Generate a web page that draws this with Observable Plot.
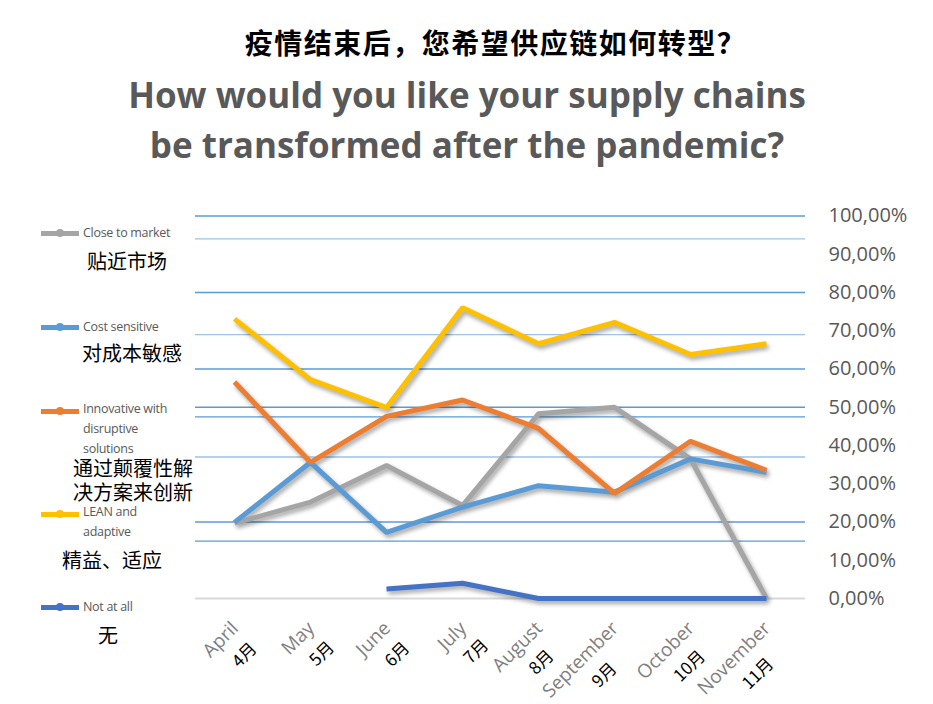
<!DOCTYPE html>
<html>
<head>
<meta charset="utf-8">
<script src="https://cdn.jsdelivr.net/npm/d3@7"></script>
<script src="https://cdn.jsdelivr.net/npm/@observablehq/plot@0.6"></script>
<style>
  body { margin: 0; background: #fff; }
  #page { position: relative; width: 933px; height: 704px; overflow: hidden; font-family: "Open Sans", sans-serif; }
  #zhTitle { position: absolute; left: 0; width: 991px; top: 26px; text-align: center; font: 700 28px/32px "Noto Sans CJK SC", sans-serif; color: #000; letter-spacing: 1.5px; white-space: nowrap; }
  #enTitle { position: absolute; left: 0; width: 934px; top: 69.5px; text-align: center; font: 700 35px/50px "Open Sans", sans-serif; color: #595959; white-space: nowrap; }
  #chart { position: absolute; left: 0; top: 190px; width: 933px; height: 514px; }
  #chart svg { position: absolute; left: 0; top: 0; }
  .sw { position: absolute; left: 41px; width: 38px; height: 5px; }
  .dot { position: absolute; left: 56px; width: 8px; height: 8px; border-radius: 50%; }
  .en { position: absolute; left: 83px; font: 400 12.5px/14px "Open Sans", sans-serif; color: #595959; white-space: nowrap; letter-spacing: -0.3px; }
  .zh { position: absolute; font: 400 20px/20px "Noto Sans CJK SC", sans-serif; color: #000; white-space: nowrap; }
  .xzh { position: absolute; font: 400 17px/17px "Noto Sans CJK SC", sans-serif; color: #000; white-space: nowrap; transform-origin: 0 0; }
  #chart g[aria-label="line"] { filter: drop-shadow(2px 3px 2px rgba(0,0,0,0.35)); }
</style>
</head>
<body>
<div id="page">
  <div id="zhTitle">疫情结束后，您希望供应链如何转型？</div>
  <div id="enTitle">How would you like your supply chains<br>be transformed after the pandemic?</div>

  <div class="sw" style="top:230.5px;background:#a5a5a5"></div><div class="dot" style="top:229px;background:#a5a5a5"></div>
  <div class="en" style="top:226px">Close to market</div>
  <div class="zh" style="left:87px;top:251px">贴近市场</div>

  <div class="sw" style="top:324.5px;background:#5b9bd5"></div><div class="dot" style="top:323px;background:#5b9bd5"></div>
  <div class="en" style="top:320px">Cost sensitive</div>
  <div class="zh" style="left:82px;top:343px">对成本敏感</div>

  <div class="sw" style="top:408.5px;background:#ed7d31"></div><div class="dot" style="top:407px;background:#ed7d31"></div>
  <div class="en" style="top:402px">Innovative with</div>
  <div class="en" style="top:422px">disruptive</div>
  <div class="en" style="top:442px">solutions</div>
  <div class="zh" style="left:73px;top:458px">通过颠覆性解</div>
  <div class="zh" style="left:73px;top:482px">决方案来创新</div>

  <div class="sw" style="top:511.5px;background:#ffc000"></div><div class="dot" style="top:510px;background:#ffc000"></div>
  <div class="en" style="top:505px">LEAN and</div>
  <div class="en" style="top:525px">adaptive</div>
  <div class="zh" style="left:62px;top:550px">精益、适应</div>

  <div class="sw" style="top:604.5px;background:#4472c4"></div><div class="dot" style="top:603px;background:#4472c4"></div>
  <div class="en" style="top:600px">Not at all</div>
  <div class="zh" style="left:98px;top:625px">无</div>

  <div id="chart"></div>
</div>
<script>
const months = ["April", "May", "June", "July", "August", "September", "October", "November"];
const monthsZh = ["4月", "5月", "6月", "7月", "8月", "9月", "10月", "11月"];
const seriesNames = ["Close to market", "Cost sensitive", "Innovative with disruptive solutions", "LEAN and adaptive", "Not at all"];
const seriesColors = ["#a5a5a5", "#5b9bd5", "#ed7d31", "#ffc000", "#4472c4"];

const closeToMarket = [19.7, 25.2, 34.8, 24.3, 48.3, 50.0, 36.5, 0];
const costSensitive = [19.9, 35.6, 17.3, 23.9, 29.5, 27.8, 36.5, 33.0];
const innovative    = [56.6, 35.6, 47.6, 51.9, 44.5, 27.5, 41.1, 33.5];
const leanAdaptive  = [73.1, 57.2, 49.9, 76.0, 66.6, 72.2, 63.8, 66.6];
const notAtAll      = [null, null, 2.5, 4.0, 0, 0, 0, 0];

const yTicks = [0, 10, 20, 30, 40, 50, 60, 70, 80, 90, 100];
const gridMajor = [100, 80, 60, 50, 47.5, 20, 15];
const gridMinor = [94, 69, 37];

const seriesValues = [closeToMarket, costSensitive, innovative, leanAdaptive, notAtAll];
const rows = seriesValues.flatMap((vals, i) =>
  months.map((m, j) => ({series: seriesNames[i], month: m, value: vals[j]}))
).filter(d => d.value != null);

const chart = Plot.plot({
  width: 933,
  height: 514,
  marginTop: 25.5,
  marginBottom: 106,
  marginLeft: 195,
  marginRight: 128,
  x: {type: "point", domain: months, padding: 0.483, axis: null},
  y: {domain: [0, 100], axis: null},
  color: {domain: seriesNames, range: seriesColors},
  style: {background: "transparent", overflow: "visible", fontFamily: "Open Sans, sans-serif"},
  marks: [
    Plot.ruleY(gridMinor, {stroke: "#9dc3e6", strokeWidth: 1.3}),
    Plot.ruleY(gridMajor, {stroke: "#5b9bd5", strokeWidth: 1.3}),
    Plot.ruleY([0], {stroke: "#d9d9d9", strokeWidth: 2}),
    Plot.axisY(yTicks, {
      anchor: "right", tickSize: 0, tickPadding: 23, label: null,
      tickFormat: d => d.toFixed(2).replace(".", ",") + "%",
      fontSize: 20, fill: "#595959", textAnchor: "start", fontFamily: "Open Sans"
    }),
    Plot.line(rows, {
      x: "month", y: "value", z: "series", stroke: "series",
      strokeWidth: 5, strokeLinejoin: "miter", strokeLinecap: "butt"
    }),
    Plot.text(months, {
      x: d => d, frameAnchor: "bottom", rotate: -45, textAnchor: "end", lineAnchor: "bottom",
      dx: 5, dy: 31, fontSize: 19, fill: "#7f7f7f", fontFamily: "Open Sans"
    })
  ]
});
const holder = document.getElementById("chart");
holder.append(chart);

// second line of each rotated category label (Chinese month), centred under the English month
const xs = chart.scale("x"), ys = chart.scale("y");
const enTexts = chart.querySelectorAll('g[aria-label="text"] text');
enTexts.forEach(t => { t.removeAttribute("y"); t.removeAttribute("dy"); });
months.forEach((m, i) => {
  const L = enTexts[i] ? enTexts[i].getComputedTextLength() : 0;
  const px = xs.apply(m) + 5, py = ys.apply(0) + 31;
  const d = document.createElement("div");
  d.className = "xzh";
  d.textContent = monthsZh[i];
  d.style.left = px + "px";
  d.style.top = py + "px";
  d.style.transform = `rotate(-45deg) translate(${(-L / 2 + 6).toFixed(1)}px, 12px) translateX(-50%)`;
  holder.appendChild(d);
});
</script>
</body>
</html>
